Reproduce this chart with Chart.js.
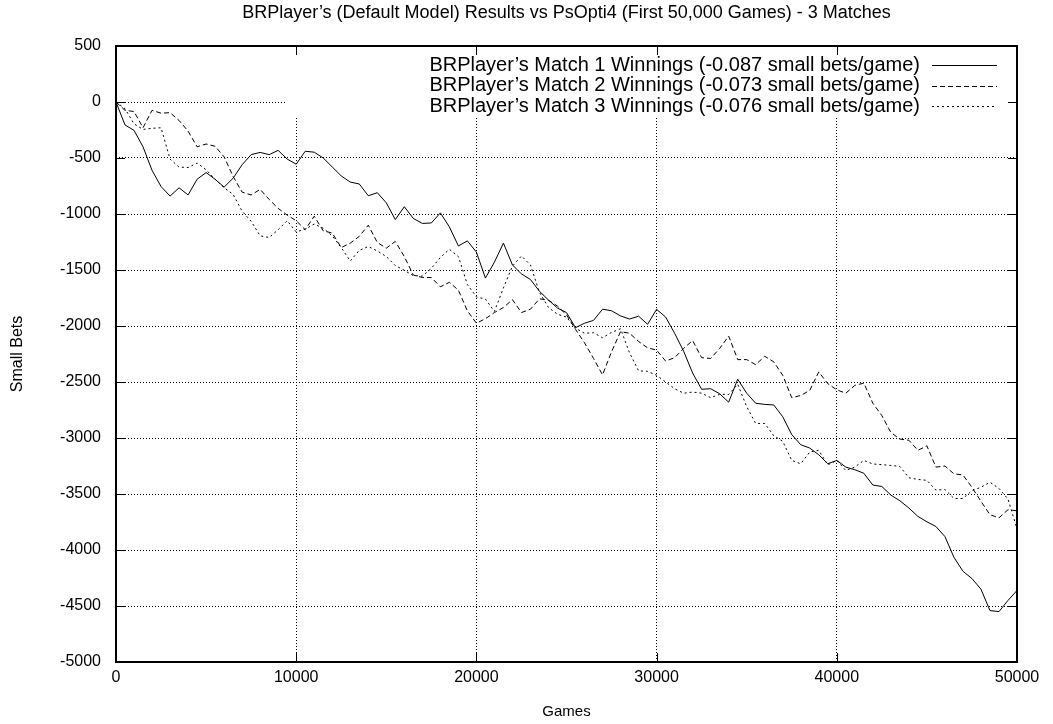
<!DOCTYPE html>
<html>
<head>
<meta charset="utf-8">
<script src="https://cdn.jsdelivr.net/npm/chart.js@4.4.0/dist/chart.umd.min.js"></script>
<style>
body { margin: 0; background: #fff; }
</style>
</head>
<body>
<canvas id="resultsChart" width="1053" height="724"></canvas>
<script>
const games = [
    0, 500, 1000, 1500, 2000, 2500, 3000, 3500, 4000, 4500,
    5000, 5500, 6000, 6500, 7000, 7500, 8000, 8500, 9000, 9500,
    10000, 10500, 11000, 11500, 12000, 12500, 13000, 13500, 14000, 14500,
    15000, 15500, 16000, 16500, 17000, 17500, 18000, 18500, 19000, 19500,
    20000, 20500, 21000, 21500, 22000, 22500, 23000, 23500, 24000, 24500,
    25000, 25500, 26000, 26500, 27000, 27500, 28000, 28500, 29000, 29500,
    30000, 30500, 31000, 31500, 32000, 32500, 33000, 33500, 34000, 34500,
    35000, 35500, 36000, 36500, 37000, 37500, 38000, 38500, 39000, 39500,
    40000, 40500, 41000, 41500, 42000, 42500, 43000, 43500, 44000, 44500,
    45000, 45500, 46000, 46500, 47000, 47500, 48000, 48500, 49000, 49500,
    50000
];

const match1 = [
    0, -205, -253, -400, -610, -755, -840, -766, -830, -690,
    -630, -690, -760, -680, -560, -470, -450, -470, -432, -510,
    -555, -440, -448, -500, -580, -660, -715, -732, -837, -810,
    -900, -1050, -935, -1040, -1084, -1080, -990, -1115, -1285, -1240,
    -1340, -1572, -1430, -1260, -1455, -1535, -1585, -1690, -1768, -1840,
    -1880, -2015, -1975, -1950, -1850, -1864, -1910, -1938, -1912, -1985,
    -1851, -1920, -2065, -2225, -2420, -2565, -2560, -2605, -2680, -2475,
    -2600, -2690, -2700, -2705, -2810, -2970, -3060, -3090, -3150, -3230,
    -3200, -3260, -3283, -3315, -3420, -3433, -3510, -3560, -3625, -3700,
    -3748, -3790, -3880, -4065, -4190, -4255, -4350, -4541, -4550, -4450,
    -4362
];

const match2 = [
    0, -74, -85, -230, -74, -100, -95, -165, -260, -400,
    -375, -395, -490, -665, -805, -830, -780, -870, -950, -1010,
    -1060, -1140, -1020, -1150, -1170, -1300, -1260, -1200, -1100, -1254,
    -1305, -1245, -1380, -1545, -1567, -1567, -1650, -1610, -1680, -1865,
    -1975, -1935, -1880, -1835, -1765, -1880, -1850, -1757, -1770, -1822,
    -1900, -2030, -2150, -2290, -2436, -2230, -2050, -2065, -2138, -2195,
    -2215, -2313, -2283, -2200, -2130, -2283, -2290, -2200, -2090, -2300,
    -2300, -2345, -2270, -2320, -2440, -2641, -2620, -2575, -2410, -2515,
    -2570, -2600, -2530, -2510, -2690, -2800, -2950, -3010, -3020, -3110,
    -3070, -3260, -3250, -3320, -3330, -3440, -3565, -3685, -3713, -3640,
    -3650
];

const match3 = [
    0, -60, -195, -245, -235, -230, -510, -581, -585, -545,
    -605, -690, -765, -825, -975, -1065, -1195, -1210, -1140, -1060,
    -1160, -1135, -1090, -1127, -1195, -1300, -1420, -1325, -1290, -1330,
    -1380, -1460, -1503, -1550, -1555, -1485, -1388, -1315, -1380, -1630,
    -1740, -1760, -1870, -1660, -1465, -1375, -1455, -1700, -1835, -1895,
    -1920, -2020, -2065, -2060, -2105, -2057, -2025, -2240, -2400, -2405,
    -2440, -2500, -2560, -2600, -2590, -2600, -2640, -2610, -2611, -2520,
    -2720, -2870, -2870, -2980, -3030, -3200, -3230, -3125, -3110, -3240,
    -3200, -3290, -3260, -3200, -3232, -3238, -3245, -3254, -3355, -3370,
    -3378, -3465, -3460, -3540, -3540, -3470, -3440, -3395, -3450, -3545,
    -3811
];

const seriesLabels = [
    'BRPlayer\u2019s Match 1 Winnings (-0.087 small bets/game)',
    'BRPlayer\u2019s Match 2 Winnings (-0.073 small bets/game)',
    'BRPlayer\u2019s Match 3 Winnings (-0.076 small bets/game)'
];

const FONT = '"Liberation Sans", Arial, Helvetica, sans-serif';

function toPoints(values) {
    return values.map((v, i) => ({ x: games[i], y: v }));
}

// gnuplot look: opaque key, inward ticks on every side, solid frame
const gnuplotFrame = {
    id: 'gnuplotFrame',
    beforeDatasetsDraw(chart) {
        const { ctx, chartArea: a } = chart;
        ctx.save();
        ctx.fillStyle = '#fff';
        ctx.fillRect(a.left + 170, a.top, a.right - a.left - 170, 72);
        ctx.restore();
    },
    afterDatasetsDraw(chart) {
        const { ctx, chartArea: a, scales: { x, y } } = chart;
        ctx.save();
        ctx.strokeStyle = '#000';
        ctx.setLineDash([]);
        ctx.lineWidth = 1;
        ctx.beginPath();
        x.ticks.forEach(t => {
            const px = Math.round(x.getPixelForValue(t.value)) + 0.5;
            ctx.moveTo(px, a.bottom);
            ctx.lineTo(px, a.bottom - 9);
            ctx.moveTo(px, a.top);
            ctx.lineTo(px, a.top + 9);
        });
        y.ticks.forEach(t => {
            const py = Math.round(y.getPixelForValue(t.value)) + 0.5;
            ctx.moveTo(a.left, py);
            ctx.lineTo(a.left + 9, py);
            ctx.moveTo(a.right, py);
            ctx.lineTo(a.right - 9, py);
        });
        ctx.stroke();
        ctx.lineWidth = 2;
        ctx.strokeRect(a.left, a.top, a.right - a.left, a.bottom - a.top);

        ctx.font = '20px ' + FONT;
        ctx.textAlign = 'right';
        ctx.textBaseline = 'middle';
        ctx.fillStyle = '#000';
        chart.data.datasets.forEach((ds, i) => {
            const rowY = a.top + 19 + i * 20.5;
            ctx.fillText(ds.label, a.right - 97, rowY);
            ctx.lineWidth = 1;
            ctx.setLineDash(ds.borderDash || []);
            ctx.beginPath();
            ctx.moveTo(a.right - 85, Math.round(rowY) + 0.5);
            ctx.lineTo(a.right - 20, Math.round(rowY) + 0.5);
            ctx.stroke();
        });
        ctx.restore();
    }
};

const ctx = document.getElementById('resultsChart');
const dashes = [[], [5, 3], [2, 3]];

new Chart(ctx, {
    type: 'line',
    data: {
        datasets: [match1, match2, match3].map((vals, i) => ({
            label: seriesLabels[i],
            data: toPoints(vals),
            borderColor: '#000',
            borderWidth: 1,
            borderDash: dashes[i],
            pointRadius: 0,
            tension: 0,
            fill: false
        }))
    },
    options: {
        responsive: false,
        animation: false,
        layout: { padding: { top: 0, right: 36, bottom: 0, left: 0 } },
        plugins: {
            legend: { display: false },
            tooltip: { enabled: false },
            title: {
                display: true,
                fullSize: false,
                text: 'BRPlayer\u2019s (Default Model) Results vs PsOpti4 (First 50,000 Games) - 3 Matches',
                color: '#000',
                font: { family: FONT, size: 18, weight: 'normal', lineHeight: 1.2 },
                padding: { top: 2, bottom: 22.4 }
            }
        },
        scales: {
            x: {
                type: 'linear',
                min: 0,
                max: 50000,
                ticks: {
                    stepSize: 10000,
                    color: '#000',
                    font: { family: FONT, size: 16 },
                    padding: 6,
                    maxRotation: 0,
                    callback: v => String(v)
                },
                grid: { color: '#000', lineWidth: 1, drawTicks: false },
                border: { display: false, dash: [1, 2] },
                title: {
                    display: true,
                    text: 'Games',
                    color: '#000',
                    font: { family: FONT, size: 15 },
                    padding: { top: 0, bottom: 3 }
                },
                afterFit: s => { s.height = 62; }
            },
            y: {
                min: -5000,
                max: 500,
                ticks: {
                    stepSize: 500,
                    color: '#000',
                    font: { family: FONT, size: 16 },
                    padding: 15,
                    callback: v => String(v)
                },
                grid: { color: '#000', lineWidth: 1, drawTicks: false },
                border: { display: false, dash: [1, 2] },
                title: {
                    display: true,
                    text: 'Small Bets',
                    color: '#000',
                    font: { family: FONT, size: 16 },
                    padding: { top: 8, bottom: 0 }
                },
                afterFit: s => { s.width = 116; }
            }
        }
    },
    plugins: [gnuplotFrame]
});
</script>
</body>
</html>
